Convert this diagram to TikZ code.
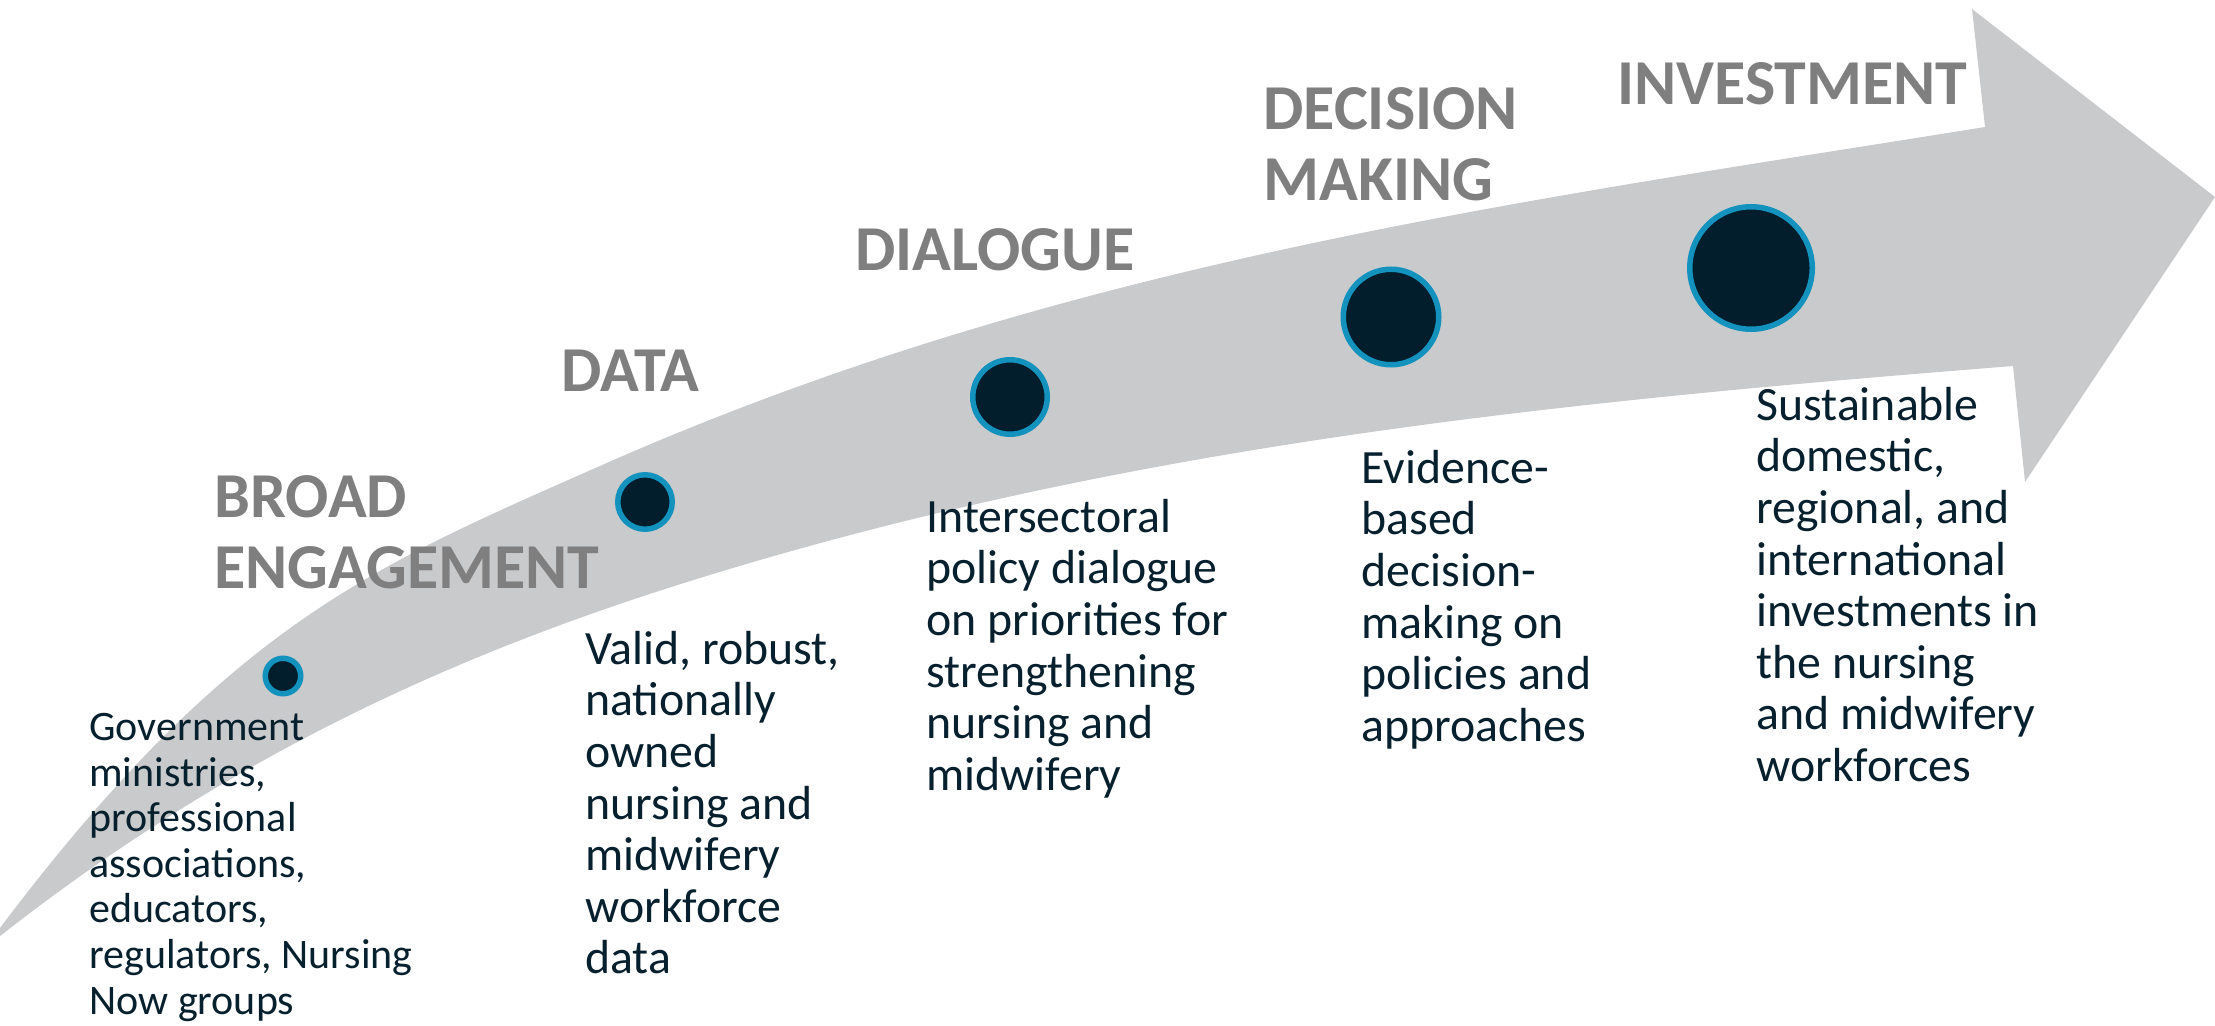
\documentclass[tikz,border=0pt]{standalone}
\usepackage{fontspec}
\setmainfont{Carlito}
\definecolor{arrowgrey}{RGB}{201,202,204}
\definecolor{titlegrey}{RGB}{127,127,127}
\definecolor{noteblue}{RGB}{6,32,46}
\definecolor{dotnavy}{RGB}{2,30,44}
\definecolor{ringblue}{RGB}{20,146,190}
\newcommand{\strutline}{\rule{0pt}{1em}}
\tikzset{
  stage/.style={anchor=north west, inner sep=0pt, align=left, text=titlegrey,
    font=\fontsize{32}{35.5}\selectfont\bfseries},
  note/.style={anchor=north west, inner sep=0pt, align=left, text=noteblue,
    font=\fontsize{23.9}{25.8}\selectfont},
  dot/.style={circle, draw=ringblue, fill=dotnavy, line width=2.75pt, inner sep=0pt}
}
\begin{document}
\begin{tikzpicture}[x=0.5pt,y=-0.5pt]

      \useasboundingbox (0,0) rectangle (2215,1026);
      % curved arrow
      \fill[arrowgrey] (-15,948) .. controls (225,624) and (369,568) .. (609,462)
        .. controls (1069,260) and (1525,201) .. (1985,127)
        -- (1972,9) -- (2215,197) -- (2025,482) -- (2013,366)
        .. controls (1573,401) and (1140,442) .. (700,578)
        .. controls (460,652) and (225,756) .. (-15,948) -- cycle;

      \path (283,676) node [dot,minimum size=17.75pt](dot_broad){};
      \path (645,502) node [dot,minimum size=27.25pt](dot_data){};
      \path (1010,397) node [dot,minimum size=37.25pt](dot_dialogue){};
      \path (1391,317) node [dot,minimum size=47.75pt](dot_decision){};
      \path (1751,268) node [dot,minimum size=61.25pt](dot_invest){};

      \path (214,453) node [stage](stage_broad){\strutline BROAD\\ENGAGEMENT};
      \path (561,327) node [stage](stage_data){\strutline DATA};
      \path (855,206) node [stage](stage_dialogue){\strutline DIALOGUE};
      \path (1263,65) node [stage](stage_decision){\strutline DECISION\\MAKING};
      \path (1617,40) node [stage](stage_invest){\strutline INVESTMENT};

      \path (89,698) node [note,font=\fontsize{21}{22.8}\selectfont](note_broad){\strutline Government\\ministries,\\professional\\associations,\\educators,\\regulators, Nursing\\Now groups};
      \path (585,616) node [note](note_data){\strutline Valid, robust,\\nationally\\owned\\nursing and\\midwifery\\workforce\\data};
      \path (926,484) node [note](note_dialogue){\strutline Intersectoral\\policy dialogue\\on priorities for\\strengthening\\nursing and\\midwifery};
      \path (1361,435) node [note](note_decision){\strutline Evidence-\\based\\decision-\\making on\\policies and\\approaches};
      \path (1756,372) node [note](note_invest){\strutline Sustainable\\domestic,\\regional, and\\international\\investments in\\the nursing\\and midwifery\\workforces};

    \end{tikzpicture}
\end{document}
